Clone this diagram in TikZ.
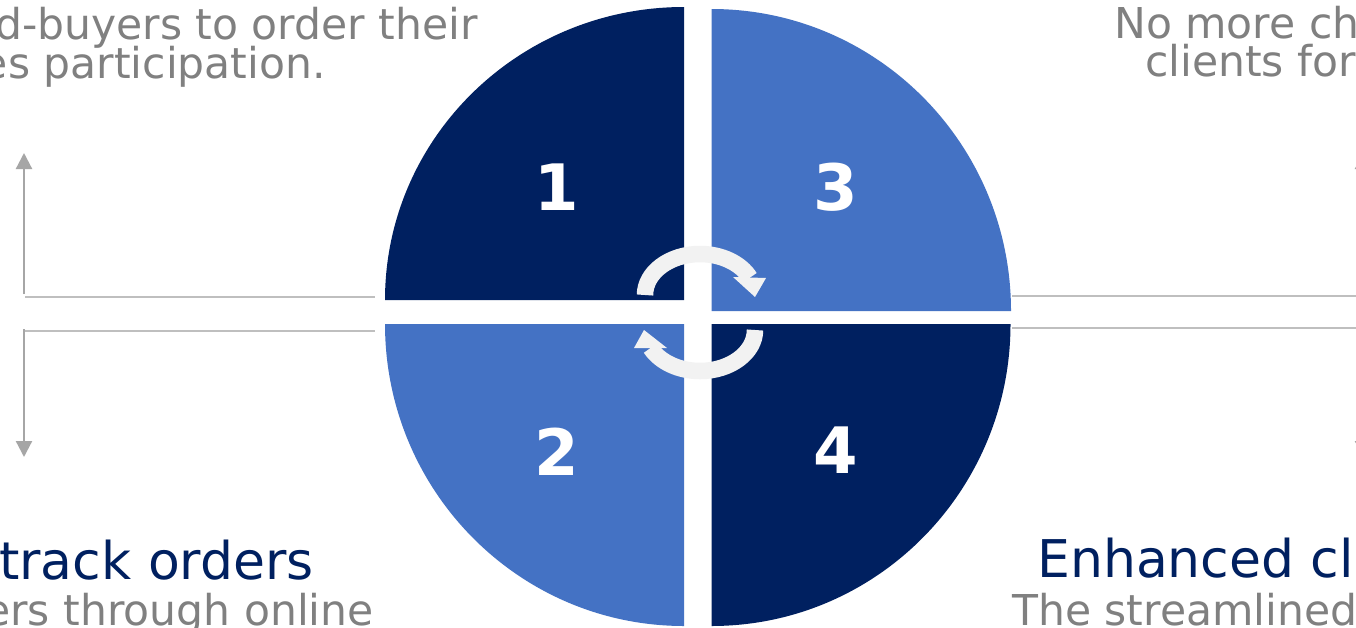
\documentclass[tikz,border=0pt]{standalone}
\usepackage{fontspec}
\setmainfont{DejaVu Sans}
\usetikzlibrary{arrows.meta}
\definecolor{navy}{HTML}{002060}
\definecolor{lblue}{HTML}{4472C4}
\definecolor{txtgray}{HTML}{808080}
\definecolor{linegray}{HTML}{BFBFBF}
\definecolor{arrgray}{HTML}{A6A6A6}
\definecolor{cyc}{HTML}{F2F2F2}
\tikzset{
  quad/.style={draw=none},
  numlbl/.style={text=white,font=\fontsize{64}{64}\selectfont\bfseries,inner sep=0pt},
  graytxt/.style={text=txtgray,font=\fontsize{42.5}{42.5}\selectfont,inner sep=0pt},
  navytxt/.style={text=navy,font=\fontsize{52}{52}\selectfont,inner sep=0pt},
  hline/.style={draw=linegray,line width=1.5pt},
  varrow/.style={draw=arrgray,line width=2.2pt,-{Triangle[width=16pt,length=16pt]}},
  cycarc/.style={draw=cyc,line width=16.5pt},
  cychead/.style={fill=cyc,draw=none}
}
\begin{document}
\begin{tikzpicture}[x=1pt,y=1pt]
\useasboundingbox (0,0) rectangle (1356,-627);
\clip (0,0) rectangle (1356,-627);
\fill[white] (0,0) rectangle (1356,-627);

% quadrants
\fill[navy,quad] (684,-300) -- (385,-300) arc[start angle=180,end angle=90,x radius=299,y radius=293] -- cycle;
\fill[lblue,quad] (711.5,-311) -- (711.5,-9) arc[start angle=90,end angle=0,x radius=299.5,y radius=302] -- cycle;
\fill[lblue,quad] (684,-324) -- (385,-324) arc[start angle=180,end angle=270,x radius=299,y radius=302] -- cycle;
\fill[navy,quad] (711.5,-324) -- (1010.5,-324) arc[start angle=0,end angle=-90,x radius=299,y radius=302] -- cycle;

% numbers
\node[numlbl] (n1) at (557,-187) {1};
\node[numlbl] (n2) at (557,-452) {2};
\node[numlbl] (n3) at (836,-187) {3};
\node[numlbl] (n4) at (836,-450) {4};

% cycle arrows
\draw[cycarc] (645,-295) arc[start angle=180,end angle=25,x radius=55,y radius=41];
\fill[cychead] (733,-277) -- (766,-278) -- (755,-297) -- cycle;
\draw[cycarc] (755,-330) arc[start angle=0,end angle=-154,x radius=55,y radius=41];
\fill[cychead] (634,-348) -- (667,-348) -- (644,-330) -- cycle;

% side lines
\coordinate (lh1a) at (25,-297);  \coordinate (lh1b) at (375,-297);
\coordinate (lh2a) at (25,-331);  \coordinate (lh2b) at (375,-331);
\coordinate (rh1a) at (1012,-296); \coordinate (rh1b) at (1356,-296);
\coordinate (rh2a) at (1012,-328); \coordinate (rh2b) at (1356,-328);
\draw[hline] (lh1a) -- (lh1b);
\draw[hline] (lh2a) -- (lh2b);
\draw[hline] (rh1a) -- (rh1b);
\draw[hline] (rh2a) -- (rh2b);

% vertical arrows
\coordinate (lu0) at (24,-294); \coordinate (lu1) at (24,-153);
\coordinate (ld0) at (24,-329); \coordinate (ld1) at (24,-457);
\coordinate (ru0) at (1363,-294); \coordinate (ru1) at (1363,-153);
\coordinate (rd0) at (1363,-329); \coordinate (rd1) at (1363,-457);
\draw[varrow] (lu0) -- (lu1);
\draw[varrow] (ld0) -- (ld1);
\draw[varrow] (ru0) -- (ru1);
\draw[varrow] (rd0) -- (rd1);

% texts
\node[graytxt,anchor=base east] (tl1) at (478,-39) {d-buyers to order their};
\node[graytxt,anchor=base east] (tl2) at (326,-78) {es participation.};
\node[graytxt,anchor=base west] (tr1) at (1114,-38) {No more ch};
\node[graytxt,anchor=base west] (tr2) at (1145,-76) {clients for};
\node[navytxt,anchor=base east] (bl1) at (314,-579) {track orders};
\node[graytxt,anchor=base east] (bl2) at (374,-625) {ers through online};
\node[navytxt,anchor=base west] (br1) at (1037,-577) {Enhanced cl};
\node[graytxt,anchor=base west] (br2) at (1012,-625) {The streamlined};
\end{tikzpicture}
\end{document}
